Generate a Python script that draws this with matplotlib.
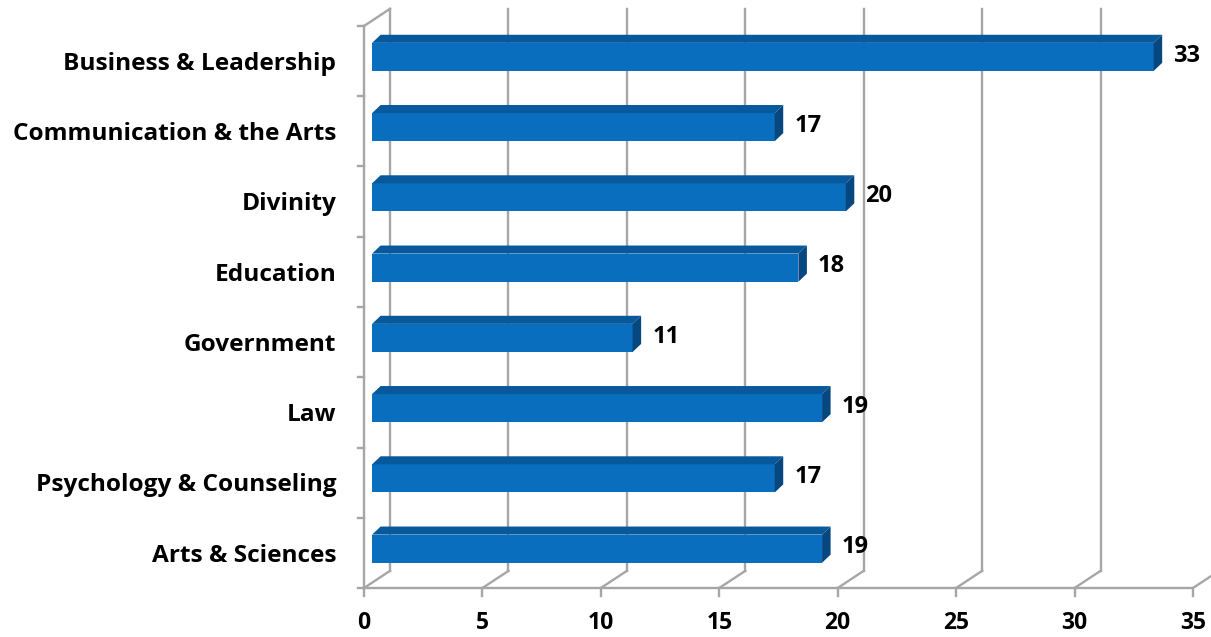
import matplotlib
matplotlib.use("Agg")
import matplotlib.pyplot as plt
from matplotlib.patches import Polygon

plt.rcParams["font.family"] = ["Open Sans", "DejaVu Sans"]

categories = [
    "Business & Leadership",
    "Communication & the Arts",
    "Divinity",
    "Education",
    "Government",
    "Law",
    "Psychology & Counseling",
    "Arts & Sciences",
]
values = [33, 17, 20, 18, 11, 19, 17, 19]
x_ticks = [0, 5, 10, 15, 20, 25, 30, 35]

GRID = "#a6a6a6"
FRONT = "#0a6ebf"
TOP = "#08599c"
SIDE = "#06477f"

fig = plt.figure(figsize=(12.11, 6.37), dpi=100)
ax = fig.add_axes([0.3006, 0.0769, 0.6845, 0.8823])
ax.set_xlim(0, 35)
ax.set_ylim(7.5, -0.5)
ax.axis("off")

# depth of the back wall (data units)
wx, wy = 1.1, 0.245
y_bot, y_top = 7.5, -0.5

# back wall gridlines and floor diagonals
for x in x_ticks:
    ax.plot([x + wx, x + wx], [y_bot - wy, y_top - wy], color=GRID, lw=1.7,
            clip_on=False, zorder=1)
    ax.plot([x, x + wx], [y_bot, y_bot - wy], color=GRID, lw=1.7,
            clip_on=False, zorder=1)
    ax.plot([x, x], [y_bot, y_bot + 0.11], color=GRID, lw=1.7,
            clip_on=False, zorder=1)

# front axes lines and side wall top edge
ax.plot([0, 35], [y_bot, y_bot], color=GRID, lw=1.7, clip_on=False, zorder=1)
ax.plot([0, 0], [y_bot, y_top], color=GRID, lw=1.7, clip_on=False, zorder=1)
ax.plot([0, wx], [y_top, y_top - wy], color=GRID, lw=1.7, clip_on=False, zorder=1)
for i in range(len(categories) + 1):
    yb = i - 0.5
    ax.plot([-0.27, 0], [yb, yb], color=GRID, lw=1.7, clip_on=False, zorder=1)

# bars with a top face and a right face
bx0 = 0.34
bh = 0.40
dx, dy = 0.36, 0.115
for i, v in enumerate(values):
    yc = i - 0.06
    y0, y1 = yc + bh / 2, yc - bh / 2
    x1 = bx0 + v
    front = Polygon([(bx0, y0), (x1, y0), (x1, y1), (bx0, y1)],
                    closed=True, facecolor=FRONT, edgecolor="none", zorder=3)
    top = Polygon([(bx0, y1), (x1, y1), (x1 + dx, y1 - dy), (bx0 + dx, y1 - dy)],
                  closed=True, facecolor=TOP, edgecolor="none", zorder=3)
    side = Polygon([(x1, y0), (x1 + dx, y0 - dy), (x1 + dx, y1 - dy), (x1, y1)],
                   closed=True, facecolor=SIDE, edgecolor="none", zorder=3)
    for p in (front, top, side):
        p.set_clip_on(False)
        ax.add_patch(p)
    ax.annotate(str(v), (x1 + dx, yc - dy / 2), xytext=(8, -2),
                textcoords="offset points", ha="left", va="center",
                fontsize=17, fontweight="bold", color="black",
                annotation_clip=False)

for i, name in enumerate(categories):
    ax.annotate(name, (0, i), xytext=(-20, -2), textcoords="offset points",
                ha="right", va="center", fontsize=17.6, fontweight="bold",
                annotation_clip=False)

for x in x_ticks:
    ax.annotate(str(x), (x, y_bot), xytext=(0, -25), textcoords="offset points",
                ha="center", va="center", fontsize=16.5, fontweight="bold",
                annotation_clip=False)

fig.savefig("out.png", dpi=100)
